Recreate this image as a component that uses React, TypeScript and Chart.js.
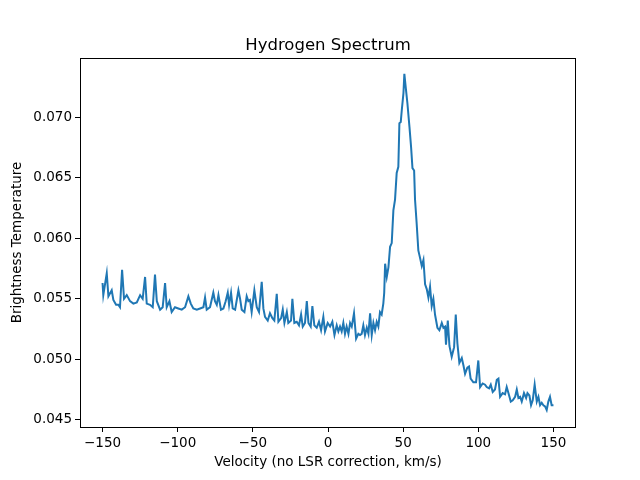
import { useEffect, useRef } from 'react';
import { Chart, registerables } from 'chart.js';

Chart.register(...registerables);

// velocity (km/s)
const velocity = [
  -150.0, -149.5, -147.2, -146.1, -143.9, -142.8, -141.0, -139.5, -138.4, -137.0,
  -135.7, -133.9, -131.7, -129.5, -127.2, -125.0, -123.3, -121.7, -120.6, -118.4,
  -116.6, -115.1, -113.9, -111.7, -110.0, -108.4, -107.3, -105.5, -104.0, -101.8,
  -99.6, -97.3, -95.1, -92.9, -91.3, -89.6, -87.3, -85.1, -82.9, -81.8,
  -80.7, -78.5, -76.3, -75.2, -74.0, -72.9, -71.2, -69.6, -68.1, -66.7,
  -65.8, -64.5, -63.4, -61.8, -60.7, -59.6, -58.5, -57.4, -55.6, -54.1,
  -53.0, -51.9, -50.8, -49.0, -47.4, -45.9, -44.1, -43.0, -41.9, -40.1,
  -38.6, -37.0, -35.7, -34.1, -33.0, -31.2, -30.1, -29.0, -27.4, -26.4,
  -24.6, -23.7, -22.4, -20.8, -19.3, -17.9, -16.8, -15.3, -14.1, -13.0,
  -11.5, -10.4, -9.1, -7.5, -6.0, -4.6, -3.1, -2.0, -0.2, 1.4,
  2.9, 4.3, 5.8, 6.9, 8.0, 9.1, 10.2, 11.3, 12.4, 13.6,
  14.7, 15.8, 17.3, 18.7, 20.2, 21.3, 22.4, 23.5, 24.6, 25.8,
  26.9, 28.0, 29.1, 30.2, 31.3, 32.4, 33.5, 34.6, 35.7, 36.8,
  37.4, 38.0, 39.1, 40.2, 41.3, 42.4, 43.5, 44.6, 45.7, 46.8,
  47.5, 48.4, 49.1, 50.2, 50.8, 51.7, 52.8, 54.2, 55.3, 56.2,
  57.3, 57.9, 59.0, 60.1, 61.2, 62.4, 63.5, 64.6, 65.7, 66.8,
  67.9, 69.0, 70.1, 71.2, 72.8, 74.1, 75.7, 76.8, 77.9, 78.5,
  79.7, 80.8, 82.3, 83.9, 85.0, 86.1, 87.4, 89.0, 90.1, 91.2,
  92.7, 93.8, 94.9, 96.7, 98.5, 100.0, 101.2, 102.9, 104.5, 105.6,
  107.2, 108.3, 109.6, 111.1, 112.3, 113.4, 114.5, 116.2, 117.8, 118.9,
  120.5, 121.6, 122.9, 124.5, 125.6, 126.7, 127.8, 128.9, 130.4, 131.8,
  132.7, 134.0, 135.1, 136.2, 137.5, 138.9, 140.0, 141.1, 142.2, 143.3,
  144.4, 145.5, 146.6, 147.7, 148.8, 150.0,
];

// brightness temperature at each velocity
const brightness = [
  0.0563, 0.0553, 0.0571, 0.0552, 0.0557, 0.0549, 0.0545, 0.0545, 0.0543, 0.0574,
  0.0550, 0.0553, 0.0548, 0.0546, 0.0547, 0.0553, 0.0550, 0.0568, 0.0546, 0.0545,
  0.0543, 0.0570, 0.0548, 0.0541, 0.0543, 0.0563, 0.0543, 0.0548, 0.0539, 0.0543,
  0.0542, 0.0541, 0.0543, 0.0552, 0.0546, 0.0542, 0.0541, 0.0542, 0.0543, 0.0551,
  0.0541, 0.0543, 0.0555, 0.0548, 0.0545, 0.0553, 0.0541, 0.0542, 0.0548, 0.0555,
  0.0545, 0.0555, 0.0542, 0.0541, 0.0549, 0.0557, 0.0550, 0.0541, 0.0539, 0.0552,
  0.0548, 0.0549, 0.0539, 0.0557, 0.0543, 0.0539, 0.0564, 0.0542, 0.0535, 0.0532,
  0.0538, 0.0534, 0.0532, 0.0554, 0.0531, 0.0534, 0.0541, 0.0530, 0.0539, 0.0530,
  0.0532, 0.0550, 0.0530, 0.0531, 0.0528, 0.0537, 0.0527, 0.0530, 0.0548, 0.0530,
  0.0527, 0.0544, 0.0528, 0.0526, 0.0531, 0.0524, 0.0535, 0.0523, 0.0530, 0.0527,
  0.0531, 0.0520, 0.0528, 0.0523, 0.0527, 0.0523, 0.0530, 0.0521, 0.0527, 0.0521,
  0.0530, 0.0527, 0.0538, 0.0517, 0.0521, 0.0520, 0.0521, 0.0528, 0.0520, 0.0526,
  0.0521, 0.0538, 0.0520, 0.0530, 0.0524, 0.0531, 0.0527, 0.0539, 0.0537, 0.0546,
  0.0555, 0.0579, 0.0568, 0.0576, 0.0593, 0.0596, 0.0623, 0.0632, 0.0654, 0.0659,
  0.0695, 0.0696, 0.0706, 0.0720, 0.0736, 0.0725, 0.0712, 0.0692, 0.0675, 0.0658,
  0.0656, 0.0632, 0.0612, 0.0590, 0.0584, 0.0577, 0.0582, 0.0562, 0.0558, 0.0551,
  0.0560, 0.0544, 0.0550, 0.0537, 0.0526, 0.0524, 0.0530, 0.0526, 0.0527, 0.0512,
  0.0532, 0.0511, 0.0502, 0.0510, 0.0537, 0.0513, 0.0497, 0.0501, 0.0495, 0.0488,
  0.0493, 0.0494, 0.0484, 0.0481, 0.0481, 0.0499, 0.0477, 0.0480, 0.0479, 0.0477,
  0.0476, 0.0479, 0.0473, 0.0475, 0.0483, 0.0484, 0.0469, 0.0472, 0.0471, 0.0477,
  0.0470, 0.0465, 0.0466, 0.0469, 0.0475, 0.0468, 0.0469, 0.0465, 0.0472, 0.0468,
  0.0472, 0.0470, 0.0462, 0.0466, 0.0479, 0.0465, 0.0469, 0.0462, 0.0464, 0.0462,
  0.0461, 0.0458, 0.0465, 0.0469, 0.0462, 0.0462,
];

const xTicks = [-150, -100, -50, 0, 50, 100, 150];
const yTicks = [0.045, 0.05, 0.055, 0.06, 0.065, 0.07];

const FONT = 'DejaVu Sans';

// title + full box around the plot area, matplotlib style
const frame = {
  id: 'frame',
  afterDraw(chart: Chart) {
    const { ctx, chartArea: a } = chart;
    ctx.save();
    ctx.strokeStyle = '#000';
    ctx.lineWidth = 1;
    ctx.strokeRect(a.left + 0.5, a.top + 0.5, a.right - a.left - 1, a.bottom - a.top);
    ctx.fillStyle = '#000';
    ctx.font = `16.5px "${FONT}"`;
    ctx.textAlign = 'center';
    ctx.textBaseline = 'alphabetic';
    ctx.fillText('Hydrogen Spectrum', (a.left + a.right) / 2, a.top - 8);
    ctx.restore();
  },
};

export default function App() {
  const canvasRef = useRef<HTMLCanvasElement>(null);

  useEffect(() => {
    if (!canvasRef.current) return;
    const points = velocity.map((v, i) => ({ x: v, y: brightness[i] }));

    const chart = new Chart(canvasRef.current, {
      type: 'line',
      data: {
        datasets: [
          {
            data: points,
            borderColor: '#1f77b4',
            borderWidth: 2,
            pointRadius: 0,
            tension: 0,
          },
        ],
      },
      options: {
        responsive: false,
        animation: false,
        layout: { padding: { top: 58, right: 64, left: 0, bottom: 0 } },
        plugins: {
          legend: { display: false },
          tooltip: { enabled: false },
        },
        scales: {
          x: {
            type: 'linear',
            min: -165,
            max: 165,
            afterBuildTicks: (s: any) => {
              s.ticks = xTicks.map((v) => ({ value: v }));
            },
            afterFit: (s: any) => {
              s.height = 53;
            },
            grid: {
              drawOnChartArea: false,
              drawTicks: true,
              tickLength: 5,
              tickColor: '#000',
              tickWidth: 1,
            },
            border: { display: false },
            ticks: {
              color: '#000',
              padding: 3,
              maxRotation: 0,
              font: { family: FONT, size: 13.5 },
              callback: (v: any) => (v < 0 ? '\u2212' + Math.abs(v) : String(v)),
            },
            title: {
              display: true,
              text: 'Velocity (no LSR correction, km/s)',
              color: '#000',
              font: { family: FONT, size: 13.5 },
              padding: { top: 0, bottom: 9 },
            },
          },
          y: {
            type: 'linear',
            min: 0.0444,
            max: 0.0749,
            afterBuildTicks: (s: any) => {
              s.ticks = yTicks.map((v) => ({ value: v }));
            },
            afterFit: (s: any) => {
              s.width = 80;
            },
            grid: {
              drawOnChartArea: false,
              drawTicks: true,
              tickLength: 5,
              tickColor: '#000',
              tickWidth: 1,
            },
            border: { display: false },
            ticks: {
              color: '#000',
              padding: 3,
              font: { family: FONT, size: 13.5 },
              callback: (v: any) => Number(v).toFixed(3),
            },
            title: {
              display: true,
              text: 'Brightness Temperature',
              color: '#000',
              font: { family: FONT, size: 13.5 },
              padding: { top: 9, bottom: 0 },
            },
          },
        },
      },
      plugins: [frame],
    });

    return () => chart.destroy();
  }, []);

  return (
    <div style={{ position: 'absolute', left: 0, top: 0, width: 640, height: 480, background: '#fff' }}>
      <canvas ref={canvasRef} width={640} height={480} />
    </div>
  );
}
